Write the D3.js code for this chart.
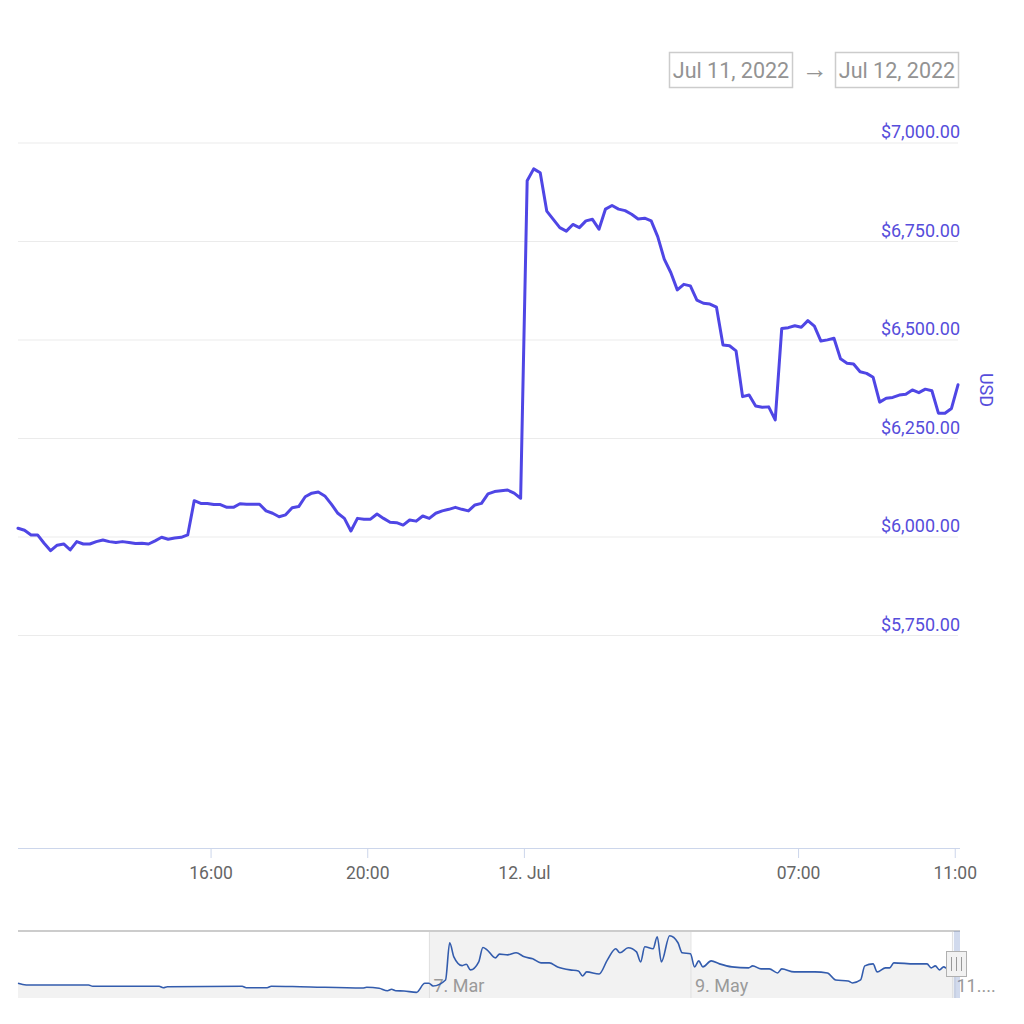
<!DOCTYPE html>
<html>
<head>
<meta charset="utf-8">
<script src="https://cdnjs.cloudflare.com/ajax/libs/d3/7.8.5/d3.min.js"></script>
<style>
body{margin:0;background:#fff;font-family:Roboto,"Noto Sans",sans-serif;}
#plot{width:1024px;height:1024px;}
</style>
</head>
<body>
<div id="plot" class="canvas"></div>
<script>
//Set up the drawing environment here
var width = document.getElementById('plot').clientWidth,
	height = document.getElementById('plot').clientHeight;

var svg = d3.select('.canvas')
	.append('svg')
	.attr('width',width)
	.attr('height',height);

//main series: 10 minute prices, Jul 11 11:05 -> Jul 12 11:05
var startTime = new Date(2022,6,11,11,5);
var prices = [
	6021,6016,6004,6004,5983,5964,5978,5981,5966,5987,
	5981,5981,5987,5991,5987,5985,5987,5985,5982,5983,
	5981,5989,5998,5993,5996,5998,6004,6091,6084,6084,
	6081,6081,6074,6074,6083,6082,6082,6082,6065,6059,
	6050,6055,6073,6076,6101,6110,6113,6103,6082,6059,
	6046,6014,6046,6044,6044,6057,6046,6036,6035,6029,
	6042,6039,6052,6046,6059,6065,6069,6074,6069,6065,
	6080,6084,6108,6114,6116,6118,6110,6097,6903,6933,
	6923,6826,6805,6784,6775,6792,6784,6801,6805,6780,
	6831,6840,6831,6827,6818,6806,6808,6801,6761,6704,
	6670,6626,6640,6636,6600,6592,6590,6582,6486,6484,
	6471,6355,6359,6331,6328,6329,6296,6528,6530,6535,
	6531,6548,6534,6496,6499,6503,6451,6440,6438,6418,
	6414,6404,6341,6351,6353,6359,6361,6372,6365,6374,
	6370,6313,6313,6325,6385
];
var times = prices.map(function(d,i){ return new Date(+startTime + i*600000); });

var yTicks = [5750,6000,6250,6500,6750,7000];
var xTickTimes = [new Date(2022,6,11,16,0), new Date(2022,6,11,20,0), new Date(2022,6,12,0,0), new Date(2022,6,12,7,0), new Date(2022,6,12,11,0)];
var xTickLabels = ['16:00','20:00','12. Jul','07:00','11:00'];

//navigator series (whole history)
var navDates = [
	'2021-11-28','2021-11-30','2021-12-15','2021-12-16','2022-01-01','2022-01-02','2022-01-03','2022-01-21','2022-01-22','2022-01-27',
	'2022-01-28','2022-02-04','2022-02-19','2022-02-20','2022-02-23','2022-02-25','2022-02-26','2022-02-27','2022-03-01','2022-03-04',
	'2022-03-06','2022-03-07','2022-03-08','2022-03-11','2022-03-12','2022-03-13','2022-03-15','2022-03-16','2022-03-17','2022-03-19',
	'2022-03-20','2022-03-21','2022-03-23','2022-03-24','2022-03-26','2022-03-28','2022-03-30','2022-04-01','2022-04-03','2022-04-05',
	'2022-04-07','2022-04-10','2022-04-12','2022-04-13','2022-04-14','2022-04-17','2022-04-19','2022-04-21','2022-04-22','2022-04-24',
	'2022-04-26','2022-04-27','2022-04-28','2022-04-30','2022-05-01','2022-05-02','2022-05-04','2022-05-06','2022-05-07','2022-05-09',
	'2022-05-10','2022-05-11','2022-05-12','2022-05-14','2022-05-16','2022-05-19','2022-05-23','2022-05-24','2022-05-26','2022-05-28',
	'2022-05-30','2022-05-31','2022-06-03','2022-06-08','2022-06-11','2022-06-13','2022-06-16','2022-06-17','2022-06-19','2022-06-20',
	'2022-06-22','2022-06-23','2022-06-25','2022-06-26','2022-06-27','2022-07-02','2022-07-05','2022-07-06','2022-07-07','2022-07-08',
	'2022-07-09','2022-07-10','2022-07-11','2022-07-12'
];
var navValues = [
	4455,4273,4273,4135,4135,3985,4092,4135,3985,3985,
	4135,4092,3953,4028,3921,3665,3815,3665,3633,3495,
	4455,4455,4167,4807,8753,7260,6332,6481,5873,6727,
	8252,8007,7153,7548,7473,7687,7260,7047,6620,6620,
	6193,5873,5767,5233,5660,5447,6940,8113,7687,8220,
	7793,6727,8327,8113,9393,6727,9500,8753,7687,7580,
	6193,6833,6193,6833,6513,6193,6087,6300,5980,5980,
	5553,5980,5660,5660,5553,4807,4700,4487,4807,6300,
	6513,5660,6087,6087,6620,6513,6513,6087,6300,5873,
	6193,5980,6193,6300
];
var navTickDates = [new Date(2022,2,7), new Date(2022,4,9), new Date(2022,6,11)];
var navTickLabels = ['7. Mar','9. May','11....'];

var parseDay = d3.timeParse('%Y-%m-%d');
var navTimes = navDates.map(parseDay);

var lineColor = '#4f46e5';
var labelColor = '#564ddb';

//scales
var x = d3.scaleTime().domain([times[0], times[times.length-1]]).range([18,958]);
var y = d3.scaleLinear().domain([5750,7000]).range([635,142.5]);

//date range boxes
var rangeBoxes = [{label:'Jul 11, 2022', x:669},{label:'Jul 12, 2022', x:835}];
rangeBoxes.forEach(function(b){
	svg.append('rect')
		.attr('x', b.x+0.5).attr('y', 52.5)
		.attr('width', 123).attr('height', 35)
		.attr('fill','none').attr('stroke','#cccccc').attr('stroke-width',1.5);
	svg.append('text')
		.attr('x', b.x+62).attr('y', 78)
		.attr('text-anchor','middle')
		.attr('font-size',21.5)
		.attr('fill','#939393')
		.text(b.label);
});
svg.append('text')
	.attr('x',815).attr('y',78)
	.attr('text-anchor','middle')
	.attr('font-size',26)
	.attr('fill','#939393')
	.text('\u2192');

//y axis with grid
var yAxis = svg.append('g')
	.attr('transform','translate(18,0)')
	.call(d3.axisRight(y).tickValues(yTicks).tickSize(940)
		.tickFormat(function(d){ return '$'+d3.format(',.2f')(d); }));
yAxis.select('.domain').remove();
yAxis.selectAll('.tick line').attr('stroke','#ebebeb');
yAxis.selectAll('.tick text')
	.attr('x',942).attr('dy',-5)
	.attr('text-anchor','end')
	.attr('font-size',18)
	.attr('font-family','Roboto, sans-serif')
	.attr('fill',labelColor);

svg.append('text')
	.attr('transform','translate(980,390) rotate(90)')
	.attr('text-anchor','middle')
	.attr('font-size',18)
	.attr('fill',labelColor)
	.text('USD');

//x axis
var xAxis = svg.append('g')
	.attr('transform','translate(0,848)')
	.call(d3.axisBottom(x).tickValues(xTickTimes).tickSize(10).tickPadding(9)
		.tickFormat(function(d,i){ return xTickLabels[i]; }));
xAxis.select('.domain').attr('stroke','#ccd6eb').attr('d','M18,0.5H960');
xAxis.selectAll('.tick line').attr('stroke','#ccd6eb');
xAxis.selectAll('.tick text')
	.attr('font-size',17.5)
	.attr('font-family','Roboto, sans-serif')
	.attr('fill','#666666');

//price line
var line = d3.line()
	.x(function(d,i){ return x(times[i]); })
	.y(function(d){ return y(d); });

svg.append('path')
	.datum(prices)
	.attr('d', line)
	.attr('fill','none')
	.attr('stroke', lineColor)
	.attr('stroke-width',3)
	.attr('stroke-linejoin','round')
	.attr('stroke-linecap','round');

//navigator
var navTop = 931, navBottom = 998;
var nx = d3.scaleTime().domain([navTimes[0], times[times.length-1]]).range([18,958]);
var ny = d3.scaleLinear().domain([3000,10000]).range([997,931]);

var nav = svg.append('g').attr('class','navigator');

nav.append('rect')
	.attr('x', nx(navTickDates[0])).attr('y', navTop)
	.attr('width', nx(navTickDates[1]) - nx(navTickDates[0]))
	.attr('height', navBottom-navTop)
	.attr('fill','#f2f2f2');

var navArea = d3.area()
	.x(function(d,i){ return nx(navTimes[i]); })
	.y0(navBottom)
	.y1(function(d){ return ny(d); })
	.curve(d3.curveMonotoneX);

nav.append('path')
	.datum(navValues)
	.attr('d', navArea)
	.attr('fill','#f2f2f2');

var navAxis = nav.append('g')
	.attr('transform','translate(0,'+navTop+')')
	.call(d3.axisBottom(nx).tickValues(navTickDates).tickSize(navBottom-navTop)
		.tickFormat(function(d,i){ return navTickLabels[i]; }));
navAxis.select('.domain').remove();
navAxis.selectAll('.tick line').attr('stroke','#e0e0e0');
navAxis.selectAll('.tick text')
	.attr('x',4).attr('y',61).attr('dy',0)
	.attr('text-anchor','start')
	.attr('font-size',18)
	.attr('font-family','Roboto, sans-serif')
	.attr('fill','#9a9a9a');

nav.append('path')
	.datum(navValues)
	.attr('d', navArea.lineY1())
	.attr('fill','none')
	.attr('stroke','#335cad')
	.attr('stroke-width',1.6);

nav.append('line')
	.attr('x1',18).attr('x2',960)
	.attr('y1',navTop).attr('y2',navTop)
	.attr('stroke','#cccccc').attr('stroke-width',2);

//selected range mask + handle
var selX0 = nx(times[0]), selX1 = nx(times[times.length-1]) + 2;
nav.append('rect')
	.attr('x', selX0).attr('y', navTop)
	.attr('width', selX1-selX0).attr('height', navBottom-navTop)
	.attr('fill','rgba(102,133,194,0.3)');

nav.append('rect')
	.attr('x',946.5).attr('y',951.5)
	.attr('width',20).attr('height',25)
	.attr('fill','#f2f2f2').attr('stroke','#b0b0b0').attr('stroke-width',1);
[951.5,956.5,961.5].forEach(function(gx){
	nav.append('line')
		.attr('x1',gx).attr('x2',gx)
		.attr('y1',957).attr('y2',971)
		.attr('stroke','#999999').attr('stroke-width',1);
});
</script>
</body>
</html>
